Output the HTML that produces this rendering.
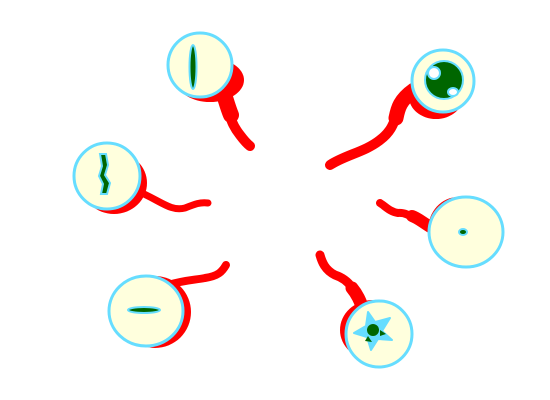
<!DOCTYPE html>
<html><head><meta charset="utf-8"><style>
html,body{margin:0;padding:0;background:#fff;}
svg{display:block;}
</style></head><body>
<svg width="550" height="400" viewBox="0 0 550 400">
<g fill="none" stroke="#ff0000" stroke-linecap="round" stroke-linejoin="round">
  <path d="M222,90 C230,110 228,120 240,135 C246,143 250,146 250,146" stroke-width="10"/>
  <path d="M222,88 C226,100 228,108 231,115" stroke-width="16"/>
  <path d="M412,92 C392,110 400,125 380,140 C365,152 345,155 330,165" stroke-width="10"/>
  <path d="M414,90 C400,100 398,108 396,118" stroke-width="15"/>
  <path d="M135,190 C160,200 170,212 185,208 C195,204 200,202 208,203" stroke-width="7"/>
  <path d="M432,228 C415,222 410,212 398,213 C390,212 385,206 380,203" stroke-width="8"/>
  <path d="M432,228 C422,222 418,218 412,216" stroke-width="12"/>
  <path d="M168,285 C185,280 195,280 205,278 C218,276 222,272 226,265" stroke-width="8"/>
  <path d="M362,310 C355,290 350,280 335,275 C325,270 322,262 320,255" stroke-width="9"/>
  <path d="M364,312 C360,300 357,294 352,288" stroke-width="13"/>
</g>
<g fill="#ff0000">
  <ellipse cx="210" cy="80" rx="34" ry="22"/>
  <ellipse cx="436" cy="97" rx="27" ry="22"/>
  <ellipse cx="114" cy="183" rx="33" ry="31"/>
  <ellipse cx="458" cy="230" rx="30" ry="33"/>
  <ellipse cx="155" cy="312" rx="36" ry="36"/>
  <ellipse cx="373" cy="330" rx="33" ry="30"/>
</g>
<g fill="#ffffdd" stroke="#66ddff" stroke-width="3">
  <circle cx="200" cy="65" r="32"/>
  <circle cx="443" cy="81" r="31"/>
  <circle cx="107" cy="176" r="33"/>
  <ellipse cx="466" cy="232" rx="37" ry="35"/>
  <ellipse cx="146" cy="311" rx="37" ry="35"/>
  <circle cx="379" cy="334" r="33"/>
</g>
<g>
  <ellipse cx="193" cy="67" rx="3.5" ry="22" fill="#006600" stroke="#66ddff" stroke-width="2"/>
  <circle cx="444" cy="80" r="19" fill="#006600" stroke="#66ddff" stroke-width="2"/>
  <circle cx="434" cy="73" r="6" fill="#ffffff" stroke="#66ddff" stroke-width="2"/>
  <ellipse cx="453" cy="92" rx="5" ry="4" fill="#ffffff" stroke="#66ddff" stroke-width="2"/>
  <path d="M100,154 L106,154 L108,165 L105,175 L110,183 L107,194 L101,194 L103,184 L99,176 L102,166 Z" fill="#006600" stroke="#66ddff" stroke-width="2"/>
  <ellipse cx="463" cy="232" rx="4" ry="3" fill="#006600" stroke="#66ddff" stroke-width="2"/>
  <ellipse cx="144" cy="310" rx="16" ry="3" fill="#006600" stroke="#66ddff" stroke-width="2"/>
  <path d="M368,312 L375,322 L390,318 L382,331 L392,340 L378,339 L371,350 L367,337 L354,333 L366,326 Z" fill="#66ddff" stroke="#66ddff" stroke-width="2" stroke-linejoin="round"/>
  <circle cx="373" cy="330" r="6" fill="#006600"/>
  <path d="M380,330 L386,334 L380,336 Z M368,336 L372,342 L365,341 Z" fill="#006600"/>
</g>
</svg>
</body></html>
